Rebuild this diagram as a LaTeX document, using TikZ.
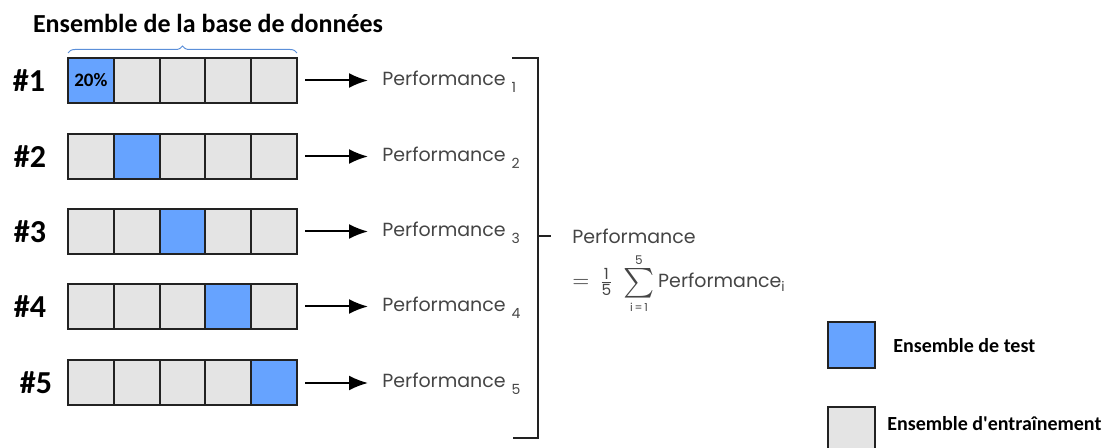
\documentclass[tikz,border=0pt]{standalone}
\usepackage{fontspec}
\setmainfont{Carlito}
\newfontfamily\perffont{Poppins}
\usepackage{amsmath}
\usepackage{graphicx}
\usetikzlibrary{arrows.meta,decorations.pathreplacing}
\definecolor{testblue}{HTML}{66A3FF}
\definecolor{traingray}{HTML}{E4E4E4}
\definecolor{perfgray}{HTML}{454545}
\definecolor{braceblue}{HTML}{5B8FD9}
\definecolor{edge}{HTML}{222222}
\begin{document}
\begin{tikzpicture}[x=0.5pt,y=-0.5pt,
  cell/.style={draw=edge, line width=1pt, minimum width=22.9pt, minimum height=22.5pt, inner sep=0pt, outer sep=0pt},
  testcell/.style={cell, fill=testblue},
  traincell/.style={cell, fill=traingray},
  rowlabel/.style={font=\bfseries\fontsize{16}{18}\selectfont, inner sep=0pt},
  titlestyle/.style={font=\bfseries\fontsize{13}{15}\selectfont, inner sep=0pt},
  legendtext/.style={font=\bfseries\fontsize{10}{12}\selectfont, inner sep=0pt, anchor=base west},
  perf/.style={font=\perffont\fontsize{9.5}{11}\selectfont, text=perfgray, inner sep=0pt, anchor=base west},
  arr/.style={-{Latex[length=9.5pt,width=7.5pt]}, line width=1pt, draw=black},
  bracketline/.style={line width=1pt, draw=edge},
  bracestyle/.style={decorate, decoration={brace, amplitude=3.5pt}, draw=braceblue, line width=0.5pt}
]
\useasboundingbox (0,0) rectangle (1105,448);

% title
\node[titlestyle, anchor=base] (title) at (208,33) {Ensemble de la base de données};

% rows
\foreach \r/\y/\lx in {1/80.5/29, 2/156.5/30, 3/231.5/30, 4/306.5/30, 5/383/36} {
  \foreach \c in {1,...,5} {
    \ifnum\c=\r \def\sty{testcell}\else\def\sty{traincell}\fi
    \node[\sty, anchor=west] (r\r-\c) at ({68+(\c-1)*45.8}, \y) {};
  }
  \node[rowlabel] (l\r) at (\lx, \y) {\#\r};
  \node[perf] (p\r) at (382, \y+5) {Performance\hspace{3pt}\raisebox{-3.5pt}{\fontsize{7}{8}\selectfont \r}};
  \coordinate (e\r) at ([xshift=-7pt]p\r.west);
  \draw[arr] ([xshift=4pt]r\r-5.east) -- (e\r |- r\r-5.east);
}
\node[font=\bfseries\fontsize{9.5}{11}\selectfont, inner sep=0pt] (pct) at (r1-1.center) {20\%};

% brace
\draw[bracestyle] ([yshift=2.5pt]r1-1.north west) -- ([yshift=2.5pt]r1-5.north east);

% bracket
\coordinate (bt) at (512,58);
\coordinate (bb) at (513,438);
\coordinate (bm) at (538,236);
\draw[bracketline] (bt) -- (bt -| bm) -- (bb -| bm) -- (bb);

% formula
\node[perf] (f1) at (572,244) {Performance};
\node[perf] (f2) at (572,288) {\fontsize{11}{13}\selectfont$=\,\tfrac{\text{1}}{\text{5}}\;\mathop{\raisebox{-1.5pt}{\scalebox{1.35}{$\sum$}}}\limits_{\text{\fontsize{5.5}{6}\selectfont i\,=\,1}}^{\text{\fontsize{6}{7}\selectfont 5}}$\,\fontsize{9.5}{11}\selectfont Performance$_{\text{i}}$};
\draw[bracketline] (bm) -- ([xshift=-10.5pt]f1.west |- bm);

% legend
\node[cell, fill=testblue, minimum width=23.5pt, minimum height=23pt] (lt) at (851.5,345) {};
\node[legendtext] (ltt) at (893,353) {Ensemble de test};
\node[cell, fill=traingray, minimum width=23.5pt, minimum height=21pt] (lg) at (851.5,428) {};
\node[legendtext] (lgt) at (887,431) {Ensemble d\textquotesingle entraînement};
\end{tikzpicture}
\end{document}
